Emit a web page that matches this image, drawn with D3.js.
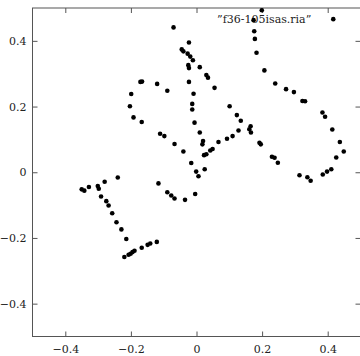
<!DOCTYPE html>
<html>
<head>
<meta charset="utf-8">
<script src="https://cdn.jsdelivr.net/npm/d3@7"></script>
<style>
  body { margin: 0; background: #fff; }
  svg { display: block; }
  text { font-family: "DejaVu Serif", serif; fill: #222; }
</style>
</head>
<body>
<div class="scatter"></div>
<script>
// data, in chart units
var xs = [
  -0.070, -0.045, -0.040, -0.171, -0.166, -0.120, -0.089, -0.199, -0.203, -0.192,
  -0.167, -0.111, -0.098, -0.067, -0.040, -0.016, -0.001, 0.006, 0.025, -0.004,
  -0.035, -0.067, -0.077, -0.089, -0.116,
  -0.023, -0.027, -0.019, -0.011, -0.025, -0.023, 0.010, 0.030, 0.035, 0.055,
  -0.023, -0.009, -0.013, -0.013, -0.006, 0.010, 0.020, 0.018, 0.023, 0.030,
  0.042, 0.049, 0.067, 0.093, 0.110, 0.128, 0.161, 0.165, 0.166, 0.101,
  0.123, 0.135, 0.192, 0.196, 0.230, 0.238, 0.248,
  0.199, 0.174, 0.176, 0.178, 0.183, 0.207, 0.240, 0.273, 0.297, 0.323,
  0.331, 0.384, 0.392, 0.414, 0.437, 0.449, 0.426, 0.411, 0.398, 0.385,
  0.348, 0.338, 0.314,
  -0.240, -0.280, -0.301, -0.298, -0.328, -0.350, -0.342, -0.291, -0.275, -0.268,
  -0.257, -0.244, -0.229, -0.214, -0.220, -0.207, -0.201, -0.195, -0.189, -0.167,
  -0.149, -0.141, -0.121
];
var ys = [
  0.441, 0.374, 0.368, 0.275, 0.276, 0.269, 0.248, 0.238, 0.201, 0.167,
  0.153, 0.117, 0.110, 0.086, 0.063, 0.028, 0.002, -0.012, 0.009, -0.066,
  -0.084, -0.080, -0.071, -0.061, -0.034,
  0.395, 0.361, 0.352, 0.341, 0.326, 0.317, 0.320, 0.296, 0.288, 0.257,
  0.275, 0.239, 0.208, 0.191, 0.151, 0.121, 0.095, 0.085, 0.052, 0.055,
  0.066, 0.071, 0.092, 0.102, 0.110, 0.127, 0.131, 0.140, 0.121, 0.201,
  0.174, 0.157, 0.090, 0.085, 0.047, 0.044, 0.029,
  0.493, 0.463, 0.429, 0.406, 0.364, 0.310, 0.270, 0.253, 0.244, 0.217,
  0.216, 0.182, 0.169, 0.130, 0.092, 0.063, 0.045, 0.009, 0.002, -0.007,
  -0.026, -0.015, -0.009,
  -0.016, -0.029, -0.042, -0.050, -0.045, -0.052, -0.056, -0.074, -0.088, -0.101,
  -0.125, -0.152, -0.174, -0.203, -0.258, -0.251, -0.248, -0.243, -0.239, -0.230,
  -0.221, -0.217, -0.212
];
var xTicks = [-0.4, -0.2, 0, 0.2, 0.4];
var yTicks = [-0.4, -0.2, 0, 0.2, 0.4];
var seriesName = "\u201Df36-105isas.ria\u201D";

var width = 360, height = 356;
var margin = {top: 8, right: 0, bottom: 20, left: 32};

var x = d3.scaleLinear().domain([-0.5, 0.5]).range([margin.left + 0.5, width - margin.right + 0.5]);
var y = d3.scaleLinear().domain([-0.5, 0.5]).range([height - margin.bottom + 0.5, margin.top]);

var svg = d3.select(".scatter").append("svg")
    .attr("width", width)
    .attr("height", height);

var fmt = function(d) { return d === 0 ? "0" : d3.format(".1f")(d); };
var tickLen = 5;

// bottom and top axes, ticks pointing inward
svg.append("g")
    .attr("transform", "translate(0," + y(-0.5) + ")")
    .call(d3.axisBottom(x).tickValues(xTicks).tickSize(-tickLen).tickPadding(tickLen + 4).tickFormat(fmt))
    .call(function(g) { g.select(".domain").remove(); });
svg.append("g")
    .attr("transform", "translate(0," + y(0.5) + ")")
    .call(d3.axisTop(x).tickValues(xTicks).tickSize(-tickLen).tickFormat(""))
    .call(function(g) { g.select(".domain").remove(); });

// left and right axes
svg.append("g")
    .attr("transform", "translate(" + x(-0.5) + ",0)")
    .call(d3.axisLeft(y).tickValues(yTicks).tickSize(-tickLen).tickPadding(6).tickFormat(fmt))
    .call(function(g) { g.select(".domain").remove(); });
svg.append("g")
    .attr("transform", "translate(" + x(0.5) + ",0)")
    .call(d3.axisRight(y).tickValues(yTicks).tickSize(-tickLen).tickFormat(""))
    .call(function(g) { g.select(".domain").remove(); });

svg.selectAll(".tick line").attr("stroke", "#555");
svg.selectAll(".tick text")
    .style("font-family", "'DejaVu Serif', serif")
    .style("font-size", "11px")
    .attr("fill", "#222");

// frame
svg.append("rect")
    .attr("x", x(-0.5))
    .attr("y", y(0.5))
    .attr("width", x(0.5) - x(-0.5))
    .attr("height", y(-0.5) - y(0.5))
    .attr("fill", "none")
    .attr("stroke", "#555")
    .attr("stroke-width", 1);

// key
svg.append("text")
    .attr("x", x(0.35))
    .attr("y", y(0.455))
    .attr("text-anchor", "end")
    .style("font-size", "11px")
    .text(seriesName);
svg.append("circle")
    .attr("cx", x(0.417))
    .attr("cy", y(0.466))
    .attr("r", 2.3)
    .attr("fill", "#000");

var pts = xs.map(function(d, i) { return {x: d, y: ys[i]}; });
svg.selectAll(".dot")
    .data(pts)
  .enter().append("circle")
    .attr("class", "dot")
    .attr("cx", function(d) { return x(d.x); })
    .attr("cy", function(d) { return y(d.y); })
    .attr("r", 2.3)
    .attr("fill", "#000");
</script>
</body>
</html>
